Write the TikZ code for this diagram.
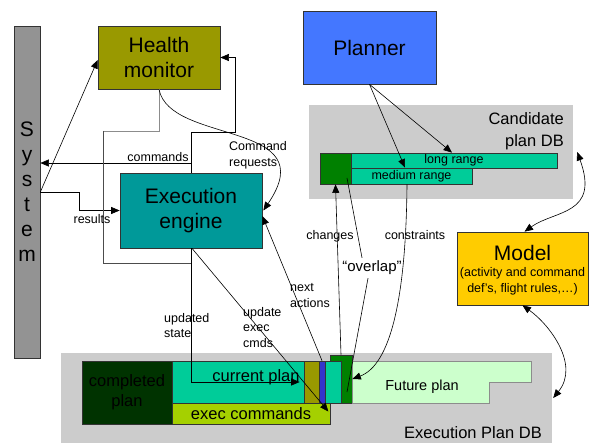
\documentclass[tikz,border=0pt]{standalone}
\usepackage{fontspec}
\setmainfont{Liberation Sans}
\usetikzlibrary{arrows.meta}
\definecolor{hmcol}{HTML}{999900}
\definecolor{excol}{HTML}{009999}
\definecolor{plcol}{HTML}{4477FF}
\definecolor{dbgray}{HTML}{CCCCCC}
\definecolor{tealc}{HTML}{00CC99}
\definecolor{greenc}{HTML}{008000}
\definecolor{compc}{HTML}{003300}
\definecolor{cmdc}{HTML}{A5D000}
\definecolor{futc}{HTML}{CCFFCC}
\definecolor{modc}{HTML}{FFCC00}
\definecolor{bluec}{HTML}{3333CC}
\definecolor{sysc}{HTML}{939393}
\begin{document}
\begin{tikzpicture}[x=1pt,y=-1pt,
  box/.style={draw=black!80, line width=0.7pt, inner sep=0pt, align=center},
  bigf/.style={font=\fontsize{21}{25}\selectfont},
  midf/.style={font=\fontsize{16.5}{20}\selectfont},
  smallf/.style={font=\fontsize{12.5}{15.5}\selectfont},
  lbl/.style={smallf, inner sep=0pt, align=left},
  arr/.style={-{Triangle[length=8.5pt,width=7pt]}, line width=0.6pt},
  arrs/.style={{Triangle[length=8.5pt,width=7pt]}-{Triangle[length=8.5pt,width=7pt]}, line width=0.6pt},
  conn/.style={line width=0.6pt}]
\useasboundingbox (0,0) rectangle (591,443);
% background regions
\node[fill=dbgray, minimum width=264pt, minimum height=94pt, inner sep=0pt] (cand) at (441,152) {};
\node[fill=dbgray, minimum width=491pt, minimum height=90pt, inner sep=0pt] (epdb) at (306.5,398) {};
\node[midf, align=right, anchor=east, inner sep=0pt, font=\fontsize{16.5}{22}\selectfont] (candt) at (564,131) {Candidate\\plan DB};
\node[midf, inner sep=0pt] (epdbt) at (473,433) {Execution Plan DB};
% main boxes
\node[box, fill=sysc, minimum width=26pt, minimum height=332pt, bigf] (sys) at (27,192) {S\\y\\s\\t\\e\\m};
\node[box, fill=hmcol, minimum width=122pt, minimum height=63pt, bigf] (hm) at (159,57.5) {Health\\monitor};
\node[box, fill=excol, minimum width=142pt, minimum height=75pt, bigf] (exec) at (191,210.5) {Execution\\engine};
\node[box, fill=plcol, minimum width=133pt, minimum height=73pt, bigf] (planner) at (369.5,47.5) {Planner};
\node[box, fill=modc, minimum width=131pt, minimum height=73pt] (model) at (522.5,268.5) {};
\node[bigf, inner sep=0pt] (modelt) at (522.5,253) {Model};
\node[smallf, inner sep=0pt, align=center] (models) at (522.5,281.5) {(activity and command\\def’s, flight rules,…)};
% candidate plan bars
\node[box, fill=greenc, minimum width=31pt, minimum height=31pt] (gsq) at (335.5,168.5) {};
\node[box, fill=tealc, minimum width=206pt, minimum height=15pt, smallf] (lr) at (454,160.5) {long range};
\node[box, fill=tealc, minimum width=121pt, minimum height=16pt, smallf] (mr) at (411.5,176) {medium range};
% execution plan bars
\node[box, fill=compc, minimum width=90pt, minimum height=63pt, midf] (comp) at (127,392.5) {completed\\plan};
\node[box, fill=tealc, minimum width=132pt, minimum height=42pt,
  label={[midf, inner sep=0pt, xshift=18pt, yshift=5pt]center:current plan}] (cur) at (238,382) {};
\node[box, fill=cmdc, minimum width=158pt, minimum height=21pt, midf] (execcmd) at (251,413.5) {exec commands};
\node[box, fill=hmcol, minimum width=15pt, minimum height=42pt] (olivebar) at (311.5,382) {};
\node[box, fill=greenc, minimum width=22pt, minimum height=48pt] (gbar) at (341,379) {};
\node[box, fill=tealc, minimum width=16pt, minimum height=42pt] (tealbar) at (333,382) {};
\node[box, fill=bluec, minimum width=6pt, minimum height=42pt] (bluebar) at (322,382) {};
\path[draw=black!45, line width=0.7pt, fill=futc] (352,361) -- (531,361) -- (531,382) -- (489,382) -- (489,403) -- (352,403) -- cycle;
\node[font=\fontsize{14.5}{17}\selectfont, inner sep=0pt] (fp) at (422,387) {Future plan};
% connectors
\draw[arr] (sys.east) -- ([yshift=-2.5pt]hm.west);
\draw[arr] (sys.east) -- ++(39,0) |- (exec.west);
\draw[arr] (exec.north) |- ([yshift=29pt]sys.east);
\draw[arr] (exec.north) |- (235,132) |- (hm.east);
\coordinate (hmj) at (103,131);
\draw[conn, draw=black!45] (hm.south) |- (hmj);
\draw[conn, draw=black!70] (hmj) |- (191,263);
\draw[arr] (hm.south) .. controls (170,145) and (325,120) .. ([xshift=1pt]exec.east);
\draw[arr] (bluebar.north) -- ([yshift=-5.5pt]exec.east);
\draw[arr] (exec.south) |- ([xshift=-4pt]olivebar.west);
\draw[arr] ([xshift=1pt]exec.south) -- ([xshift=-2pt,yshift=2pt]execcmd.east);
\draw[arr] (planner.south) -- ([xshift=-2pt]lr.north);
\draw[arr] (planner.south) -- ([xshift=-6.5pt]mr.north);
\draw[arr] (gbar.north) -- (gsq.south);
\draw[arr] ([xshift=-4.5pt]mr.south) .. controls (406,300) and (390,365) .. (gbar.east);
\node[font=\fontsize{15}{18}\selectfont, inner sep=0pt, minimum height=20pt] (ovl) at (372,268) {“overlap”};
\coordinate (ov1) at (347,178);
\coordinate (ov2) at (347,392);
\draw[conn] (ov1) -- ([xshift=-10pt]ovl.north);
\draw[conn] ([xshift=-4pt]ovl.south) -- (ov2);
\draw[arrs] ([xshift=2pt]model.north) .. controls (555,210) and (600,215) .. ([xshift=4pt]cand.east);
\draw[arrs] (model.south) .. controls (550,325) and (580,365) .. ([xshift=1pt]epdb.east);
% connector labels
\node[lbl] (lres) at (92,219) {results};
\node[lbl] (lcmd) at (158,157) {commands};
\node[lbl, anchor=west] (lcreq) at (229,155.5) {Command\\requests};
\node[lbl, anchor=west] (lups) at (164,325.5) {updated\\state};
\node[lbl, anchor=west] (luec) at (243,327.5) {update\\exec\\cmds};
\node[lbl, anchor=west] (lnext) at (290,295.5) {next\\actions};
\node[lbl] (lchg) at (330,236) {changes};
\node[lbl] (lcons) at (415,235) {constraints};
\end{tikzpicture}
\end{document}
